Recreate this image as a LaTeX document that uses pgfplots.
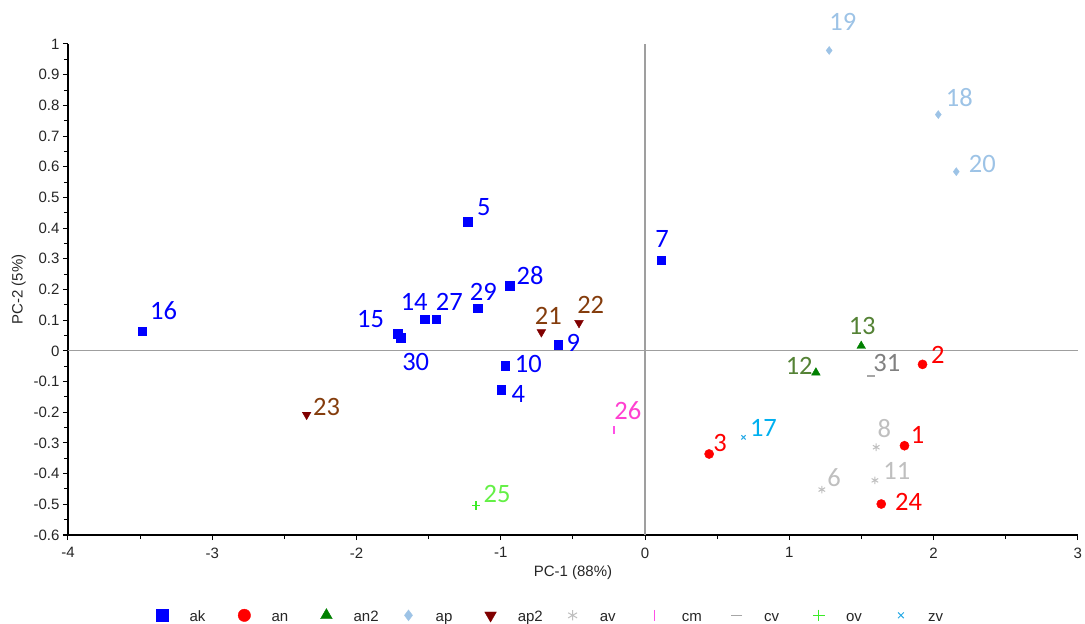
\documentclass[border=0pt]{standalone}
\usepackage{pgfplots}
\pgfplotsset{compat=1.18}
\usepackage{pgfplotstable}
\usepackage{fontspec}
\setmainfont{Liberation Sans}
\newfontfamily\calfont{Carlito}
\definecolor{cak}{RGB}{0,0,255}
\definecolor{can}{RGB}{255,0,0}
\definecolor{can2}{RGB}{0,128,0}
\definecolor{can2l}{RGB}{84,130,53}
\definecolor{cap}{RGB}{157,195,230}
\definecolor{cap2}{RGB}{128,0,0}
\definecolor{cap2l}{RGB}{132,60,12}
\definecolor{cav}{RGB}{191,191,191}
\definecolor{ccm}{RGB}{255,80,230}
\definecolor{ccml}{RGB}{255,64,208}
\definecolor{ccv}{RGB}{166,166,166}
\definecolor{ccvl}{RGB}{128,128,128}
\definecolor{cov}{RGB}{60,235,40}
\definecolor{covl}{RGB}{100,240,70}
\definecolor{czv}{RGB}{40,170,230}
\definecolor{czvl}{RGB}{0,176,240}

\pgfplotstableread{
x y lab dx dy
-3.486 0.064 16 21.4 20.3
-1.230 0.420 5 16.3 15
-0.938 0.212 28 20.3 10.3
-1.160 0.139 29 5.6 16.7
-1.528 0.103 14 -10.4 17.3
-1.449 0.103 27 13.3 17.3
-1.715 0.056 15 -27 14.3
-1.692 0.043 30 14.7 -24.4
-0.601 0.020 9 15 1.6
-0.969 -0.048 10 23 2
-0.997 -0.126 4 17 -4
0.111 0.295 7 1 21
}\tak
\pgfplotstableread{
x y lab dx dy
0.444 -0.336 3 11 11.4
1.798 -0.309 1 13 11
1.637 -0.499 24 27.3 2
1.923 -0.044 2 15.4 9.7
}\tan
\pgfplotstableread{
x y lab dx dy
1.498 0.016 13 1 20
1.184 -0.071 12 -16.7 6.6
}\tantwo
\pgfplotstableread{
x y lab dx dy
1.276 0.979 19 13.7 28.3
2.032 0.770 18 21 17.3
2.157 0.584 20 26 7.3
}\tap
\pgfplotstableread{
x y lab dx dy
-0.719 0.061 21 7 16.7
-0.458 0.091 22 11.7 17.7
-2.346 -0.208 23 20 7.6
}\taptwo
\pgfplotstableread{
x y lab dx dy
1.602 -0.314 8 8 18.7
1.593 -0.422 11 22 9
1.225 -0.452 6 12.3 11.6
}\tav
\pgfplotstableread{
x y lab dx dy
-0.217 -0.259 26 14 19.3
}\tcm
\pgfplotstableread{
x y lab dx dy
1.565 -0.082 31 16 13.4
}\tcv
\pgfplotstableread{
x y lab dx dy
-1.172 -0.504 25 21 12
}\tov
\pgfplotstableread{
x y lab dx dy
0.682 -0.282 17 20 9.3
}\tzv

\pgfplotsset{
  lbl/.style={
    only marks,
    nodes near coords,
    point meta=explicit symbolic,
    visualization depends on={\thisrow{dx}\as\mydx},
    visualization depends on={\thisrow{dy}\as\mydy},
    nodes near coords style={anchor=center, inner sep=0pt, xshift=\mydx, yshift=\mydy,
      font=\calfont\fontsize{26.5}{26.5}\selectfont, text=#1},
  }
}

\begin{document}
\begin{tikzpicture}
\useasboundingbox (-68pt,-89pt) rectangle (1017pt,535pt);
\begin{axis}[
  scale only axis,
  width=1010pt, height=491pt,
  xmin=-4, xmax=3, ymin=-0.6, ymax=1,
  axis x line*=bottom, axis y line*=left,
  axis line style={black, line width=1.4pt},
  xtick={-4,-3,-2,-1,0,1,2,3},
  ytick={-0.6,-0.5,-0.4,-0.3,-0.2,-0.1,0,0.1,0.2,0.3,0.4,0.5,0.6,0.7,0.8,0.9,1},
  yticklabels={-0.6,-0.5,-0.4,-0.3,-0.2,-0.1,0,0.1,0.2,0.3,0.4,0.5,0.6,0.7,0.8,0.9,1},
  xticklabels={-4,-3,-2,-1,0,1,2,3},
  minor x tick num=1, minor y tick num=1,
  tick align=outside,
  major tick length=5pt, minor tick length=4pt,
  tick style={black, line width=1pt},
  tick label style={font=\fontsize{15}{16}\selectfont, text=black!85},
  xticklabel style={yshift=-4pt},
  /pgf/number format/assume math mode=true,
  xlabel={PC-1 (88\%)}, ylabel={PC-2 (5\%)},
  label style={font=\fontsize{15}{16}\selectfont, text=black!85},
  xlabel style={yshift=-1pt},
  ylabel style={yshift=1pt},
  clip=false,
  legend columns=10,
  legend image code/.code={%
    \path (0cm,0cm) (0.6cm,0cm);
    \draw[mark repeat=2,mark phase=2,#1] plot coordinates {(0cm,0cm) (0.3cm,0cm) (0.6cm,0cm)};},
  legend style={at={(0.0847,-0.165)}, anchor=west, draw=none, inner sep=0pt, outer sep=0pt,
    font=\fontsize{15}{16}\selectfont,
    nodes={text width=28pt, text height=0.72em, text depth=0pt, align=left, anchor=west, yshift=-2.5pt, text=black!85},
    /tikz/every odd column/.append style={column sep=16.5pt},
    /tikz/every even column/.append style={column sep=16.1pt}},
  legend image post style={/tikz/every mark/.append style={scale=1.35}},
]
\draw[gray!75, line width=1.2pt] (axis cs:0,-0.6) -- (axis cs:0,1);
\draw[gray!75, line width=1.2pt] (axis cs:-4,0) -- (axis cs:3,0);

\addplot[lbl=cak, mark=square*, color=cak, mark size=4.3pt] table[x=x,y=y,meta=lab]{\tak};
\addlegendentry{ak}
\addplot[lbl=can, mark=*, color=can, mark size=4.6pt] table[x=x,y=y,meta=lab]{\tan};
\addlegendentry{an}
\addplot[lbl=can2l, mark=triangle*, color=can2, mark size=5pt] table[x=x,y=y,meta=lab]{\tantwo};
\addlegendentry{an2}
\addplot[lbl=cap, mark=diamond*, color=cap, mark size=4pt] table[x=x,y=y,meta=lab]{\tap};
\addlegendentry{ap}
\addplot[lbl=cap2l, mark=triangle*, color=cap2, mark size=5pt, mark options={rotate=180}] table[x=x,y=y,meta=lab]{\taptwo};
\addlegendentry{ap2}
\addplot[lbl=cav, mark=asterisk, color=cav, mark size=3.8pt, mark options={line width=1pt}] table[x=x,y=y,meta=lab]{\tav};
\addlegendentry{av}
\addplot[lbl=ccml, mark=|, color=ccm, mark size=4pt, mark options={line width=1.5pt}] table[x=x,y=y,meta=lab]{\tcm};
\addlegendentry{cm}
\addplot[lbl=ccvl, mark=-, color=ccv, mark size=4pt, mark options={line width=1.3pt}] table[x=x,y=y,meta=lab]{\tcv};
\addlegendentry{cv}
\addplot[lbl=covl, mark=+, color=cov, mark size=4.2pt, mark options={line width=1.3pt}] table[x=x,y=y,meta=lab]{\tov};
\addlegendentry{ov}
\addplot[lbl=czvl, mark=x, color=czv, mark size=3pt, mark options={line width=1pt}] table[x=x,y=y,meta=lab]{\tzv};
\addlegendentry{zv}
\end{axis}
\end{tikzpicture}
\end{document}
